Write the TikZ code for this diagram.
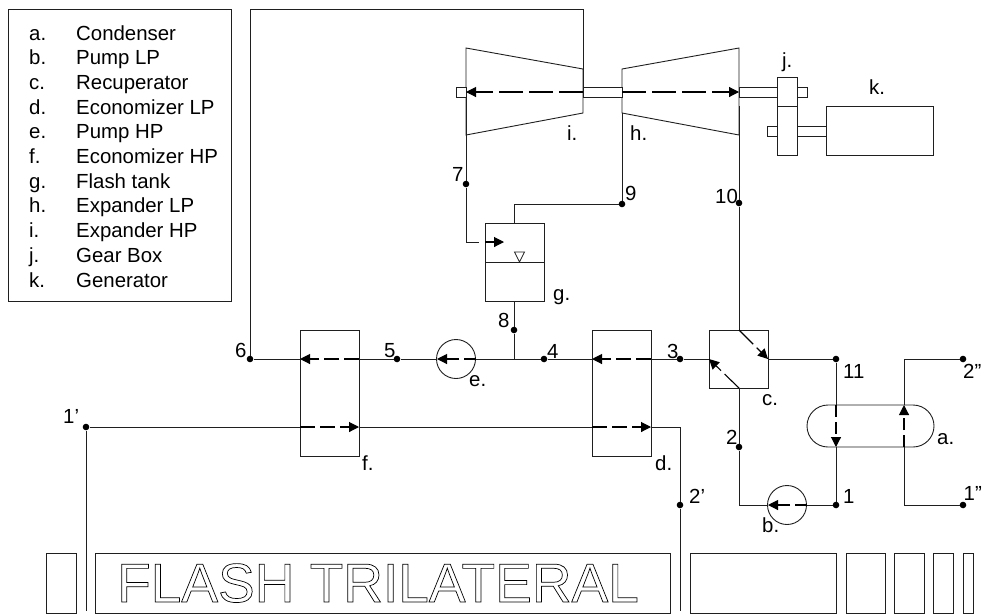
\documentclass[tikz,border=0pt]{standalone}
\usepackage{fontspec}
\setmainfont{Liberation Sans}
\usetikzlibrary{arrows.meta}
\definecolor{ln}{gray}{0.12}
\tikzset{
  x=1pt,y=-1pt,
  pipe/.style={draw=ln,line width=1pt},
  box/.style={draw=ln,line width=0.9pt,fill=white},
  flow/.style={draw=black,line width=1.1pt,dash pattern=on 15pt off 5pt,-{Triangle[length=10pt,width=10pt]}},
  dot/.style={circle,fill=black,inner sep=0pt,minimum size=6.6pt},
  lbl/.style={font=\fontsize{20.4}{20.4}\selectfont,inner sep=0pt,text=black,anchor=base west},
}
\begin{document}
\begin{tikzpicture}
\useasboundingbox (0,0) rectangle (982,614);
% legend
\draw[box] (8,9) rectangle (231,301);
\foreach \k/\n [count=\i from 0] in {a./Condenser,b./Pump LP,c./Recuperator,d./Economizer LP,e./Pump HP,f./Economizer HP,g./Flash tank,h./Expander LP,i./Expander HP,j./Gear Box,k./Generator}{
  \node[lbl] (lk\i) at (29,{40+\i*24.7}) {\k};
  \node[lbl] (ln\i) at (76,{40+\i*24.7}) {\n};
}
% coordinates
\coordinate (top1) at (250,9);
\coordinate (top2) at (583,9);
\coordinate (ishaft) at (583,92);
\node[dot] (n6) at (250,359) {};
\node[dot] (n5) at (397,359) {};
\node[dot] (n4) at (544,359) {};
\node[dot] (n3) at (680,359) {};
\node[dot] (n7) at (466,184) {};
\node[dot] (n8) at (514,330) {};
\node[dot] (n9) at (622,204) {};
\node[dot] (n10) at (739,203) {};
\node[dot] (n11) at (836,359) {};
\node[dot] (n1) at (836,505) {};
\node[dot] (n2) at (739,447) {};
\node[dot] (n1p) at (86,427) {};
\node[dot] (n2p) at (680,505) {};
\node[dot] (n2pp) at (963,359) {};
\node[dot] (n1pp) at (963,505) {};
% turbine shapes
\draw[box] (466,48) -- (583,69) -- (583,113) -- (466,135) -- cycle;
\draw[box] (622,69) -- (739,48) -- (739,135) -- (622,113) -- cycle;
\draw[box] (456,87) rectangle (466,97);
\draw[box] (583,87) rectangle (622,97);
\draw[box] (739,87) rectangle (777,97);
\draw[box] (797,87) rectangle (807,97);
\draw[box] (767,126) rectangle (777,136);
\draw[box] (797,126) rectangle (826,136);
\draw[box] (777,77) rectangle (797,106);
\draw[box] (777,106) rectangle (797,155);
\draw[box] (826,106) rectangle (933,155);
% vessels
\draw[box] (485,223) rectangle (544,301);
\draw[box] (485,262) -- (544,262);
\draw[draw=ln,line width=0.7pt,fill=white] (514.5,252) -- (524.5,252) -- (519.5,262) -- cycle;
\draw[box] (300,330) rectangle (359,456);
\draw[box] (592,330) rectangle (651,456);
\draw[box] (709,330) rectangle (768,388);
\draw[box] (456,359) circle (19.5);
\draw[box] (787,505) circle (19.5);
\draw[box,rounded corners=21pt] (807,405) rectangle (934,447);
% pipes
\draw[pipe] (n5) -- (359,359);
\draw[pipe] (300,359) -- (n6);
\draw[pipe] (n6) -- (top1) -- (top2) -- (ishaft);
\draw[pipe] (n7) -- (466,97);
\draw[pipe] (n7) -- (466,242) -- (479,242);
\draw[pipe] (622,113) -- (n9) -- (514,204) -- (514,223);
\draw[pipe] (514,301) -- (n8);
\draw[pipe] (n8) -- (514,359);
\draw[pipe] (n5) -- (437,359);
\draw[pipe] (476,359) -- (n4);
\draw[pipe] (n4) -- (592,359);
\draw[pipe] (651,359) -- (n3);
\draw[pipe] (n3) -- (709,359);
\draw[pipe] (739,106) -- (n10) -- (739,330);
\draw[pipe] (768,359) -- (n11);
\draw[pipe] (n11) -- (836,405);
\draw[pipe] (836,447) -- (n1);
\draw[pipe] (n1) -- (806,505);
\draw[pipe] (768,505) -- (739,505) -- (n2) -- (739,388);
\draw[pipe] (n1p) -- (300,427);
\draw[pipe] (n1p) -- (86,611);
\draw[pipe] (359,427) -- (592,427);
\draw[pipe] (651,427) -- (680,427) -- (n2p) -- (680,611);
\draw[pipe] (n1pp) -- (904,505) -- (904,447);
\draw[pipe] (904,405) -- (904,359) -- (n2pp);
% flow arrows
\draw[flow,dash pattern=on 24pt off 6pt] (583,92) -- (466,92);
\draw[flow,dash pattern=on 24pt off 6pt] (622,92) -- (739,92);
\draw[flow,dash pattern=on 20pt off 0pt] (485,242) -- (504,242);
\draw[flow] (359,359) -- (300,359);
\draw[flow] (300,427) -- (359,427);
\draw[flow] (651,359) -- (592,359);
\draw[flow] (592,427) -- (651,427);
\draw[flow,dash pattern=on 12pt off 5pt] (476,359) -- (437,359);
\draw[flow,dash pattern=on 12pt off 5pt] (807,505) -- (768,505);
\draw[flow,dash pattern=on 20pt off 5pt] (739,388) -- (709,359);
\draw[flow,dash pattern=on 20pt off 5pt] (739,330) -- (768,359);
\draw[flow,dash pattern=on 12pt off 5pt] (836,405) -- (836,447);
\draw[flow,dash pattern=on 12pt off 5pt] (904,447) -- (904,405);
% bottom boxes
\draw[box] (46,553) rectangle (76,613);
\node[draw=ln,line width=0.9pt,minimum width=575pt,minimum height=60pt,inner sep=0pt,anchor=north west] (title) at (95,553) {};
\node[anchor=base west,inner sep=0pt] (titletext) at (117,602) {\special{pdf:code q 1 Tr 0.7 w}\fontsize{55}{55}\selectfont FLASH TRILATERAL\special{pdf:code Q}};
\draw[box] (690,553) rectangle (836,613);
\draw[box] (846,553) rectangle (885,613);
\draw[box] (894,553) rectangle (924,613);
\draw[box] (933,553) rectangle (953,613);
\draw[box] (963,553) rectangle (973,613);
% labels
\foreach \nm/\x/\y/\t in {t1/235/357/6,t2/384/357/5,t3/547/358/4,t4/667/358/3,t5/452/181/7,t6/498/327/8,t7/625/200/9,t8/715/203/10,t9/843/378/11,t10/843/503/1,t11/726/444/2,t12/63/423/1’,t13/689/503/2’,t14/963/378/2”,t15/963.5/500/1”,ta/937/444/a.,tb/762/532/b.,tc/762/405/c.,td/655/470/d.,te/469/386/e.,tf/362/470/f.,tg/553/300/g.,th/630/140/h.,ti/567/140/i.,tj/782/67/j.,tk/869/94/k.}{
  \node[lbl] (\nm) at (\x,\y) {\t};
}
\end{tikzpicture}
\end{document}
